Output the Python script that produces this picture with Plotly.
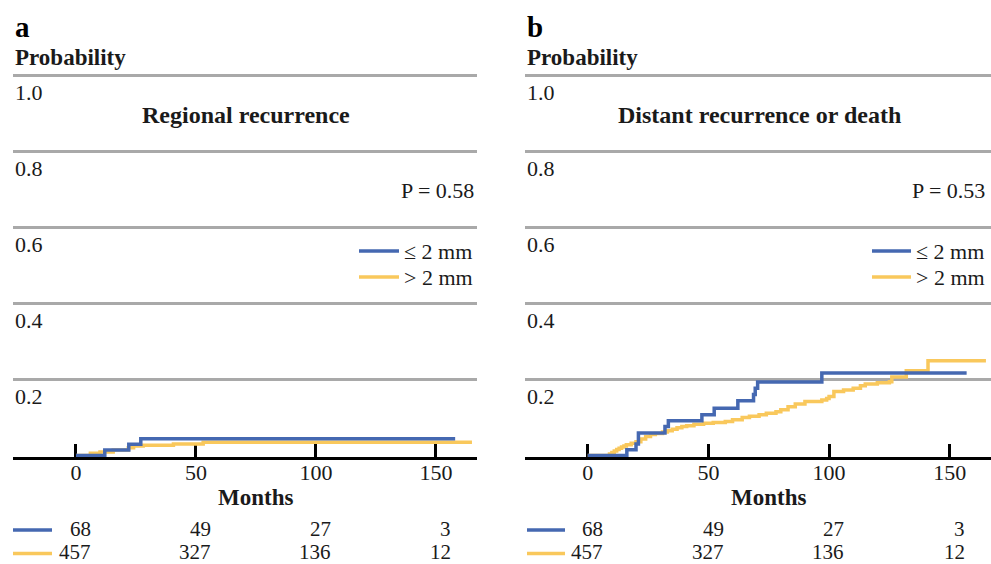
import plotly.graph_objects as go

# ---------------- data ----------------
# Panel a: Regional recurrence
a_le2_months = [0, 12, 22, 27, 158]
a_le2_prob = [0, 0.0147, 0.0294, 0.0441, 0.0441]
a_gt2_months = [0, 6, 10, 15.5, 21.8, 24, 28, 40.6, 53, 165]
a_gt2_prob = [0, 0.006, 0.009, 0.0145, 0.02, 0.025, 0.027, 0.030, 0.035, 0.035]

# Panel b: Distant recurrence or death
b_le2_months = [0, 16.2, 20.0, 21.0, 32, 33.4, 47.3, 52.4, 62.2, 68.7, 69.4, 70.4, 97, 157]
b_le2_prob = [0, 0.015, 0.030, 0.059, 0.076, 0.091, 0.107, 0.124, 0.144, 0.160, 0.177, 0.193, 0.217, 0.217]
b_gt2_months = [0, 9, 10, 11, 12, 13, 14, 15, 16, 18, 20, 22, 24, 26, 28, 31, 33, 35, 37, 39,
                41, 44, 48, 52, 57, 60, 64, 67, 71, 74, 78, 80, 83, 86, 90, 97, 99, 100, 102,
                106, 110, 113, 115, 120, 125, 126, 132, 141, 165]
b_gt2_prob = [0, 0.004, 0.008, 0.012, 0.016, 0.019, 0.022, 0.025, 0.028, 0.032, 0.036, 0.043,
              0.050, 0.055, 0.058, 0.062, 0.065, 0.069, 0.073, 0.076, 0.078, 0.082, 0.085, 0.087,
              0.089, 0.094, 0.100, 0.103, 0.107, 0.111, 0.115, 0.120, 0.128, 0.135, 0.142, 0.146,
              0.150, 0.155, 0.168, 0.172, 0.177, 0.183, 0.188, 0.191, 0.194, 0.206, 0.223, 0.249,
              0.249]

# number at risk
risk_months = [0, 50, 100, 150]
risk_le2 = [68, 49, 27, 3]
risk_gt2 = [457, 327, 136, 12]

x_ticks = [0, 50, 100, 150]
y_ticks = [0.2, 0.4, 0.6, 0.8, 1.0]
y_tick_labels = ["0.2", "0.4", "0.6", "0.8", "1.0"]

panel_letters = ["a", "b"]
panel_titles = ["Regional recurrence", "Distant recurrence or death"]
p_values = ["P = 0.58", "P = 0.53"]
group_labels = ["\u2264 2 mm", "> 2 mm"]

# ---------------- style ----------------
W, H = 991, 564
BLUE = "#4568B1"
YELLOW = "#F9C85C"
GRID = "#A9A9A9"
FONT = "Liberation Serif"
FS = 22
TXT = "#1a1a1a"


def py(px):
    return 1 - px / H


def pxx(px):
    return px / W


fig = go.Figure()

panels = [
    dict(xa="x", ya="y", le2=(a_le2_months, a_le2_prob), gt2=(a_gt2_months, a_gt2_prob),
         dom=[13 / W, 477 / W], rng=[-26.25, 167.1], left=13, right=476,
         leg_line=(359, 399), tab_line=(13, 52)),
    dict(xa="x2", ya="y2", le2=(b_le2_months, b_le2_prob), gt2=(b_gt2_months, b_gt2_prob),
         dom=[525 / W, 1.0], rng=[-26.0, 167.1], left=525, right=987,
         leg_line=(872, 911), tab_line=(527, 565)),
]

ydom = [py(457.0), py(67.4)]
yrng = [-0.004, 1.02]

annotations = []
shapes = []

for i, p in enumerate(panels):
    fig.add_trace(go.Scatter(x=p["gt2"][0], y=p["gt2"][1], mode="lines", line_shape="hv",
                             line=dict(color=YELLOW, width=3.5), xaxis=p["xa"], yaxis=p["ya"],
                             showlegend=False, hoverinfo="skip"))
    fig.add_trace(go.Scatter(x=p["le2"][0], y=p["le2"][1], mode="lines", line_shape="hv",
                             line=dict(color=BLUE, width=3.5), xaxis=p["xa"], yaxis=p["ya"],
                             showlegend=False, hoverinfo="skip"))

    axname = "xaxis" if i == 0 else "xaxis2"
    yname = "yaxis" if i == 0 else "yaxis2"
    fig.update_layout({
        axname: dict(domain=p["dom"], range=p["rng"], anchor=p["ya"], tickvals=x_ticks,
                     ticktext=[str(t) for t in x_ticks], ticks="inside", ticklen=13,
                     tickwidth=2.5, tickcolor="black", showline=True, linecolor="black",
                     linewidth=2.5, showgrid=False, zeroline=False, layer="below traces",
                     ticklabelstandoff=-6,
                     tickfont=dict(family=FONT, size=FS, color=TXT), automargin=False),
        yname: dict(domain=ydom, range=yrng, anchor=p["xa"], tickvals=y_ticks,
                    showticklabels=False, ticks="", showgrid=True, gridcolor=GRID,
                    gridwidth=2.5, zeroline=False, showline=False, automargin=False,
                    layer="below traces"),
    })

    xref = p["xa"]
    yref = p["ya"]
    # y tick labels
    for v, t in zip(y_ticks, y_tick_labels):
        annotations.append(dict(x=pxx(p["left"]), xref="paper", y=v, yref=yref, text=t,
                                showarrow=False, xanchor="left", yanchor="middle", yshift=-17,
                                font=dict(family=FONT, size=FS, color=TXT)))
    # panel letter
    annotations.append(dict(x=pxx(p["left"]), xref="paper", y=py(27), yref="paper",
                            text="<b>%s</b>" % panel_letters[i], showarrow=False,
                            xanchor="left", yanchor="middle",
                            font=dict(family=FONT, size=29, color="black")))
    annotations.append(dict(x=pxx(p["left"]), xref="paper", y=py(58), yref="paper",
                            text="<b>Probability</b>", showarrow=False,
                            xanchor="left", yanchor="middle",
                            font=dict(family=FONT, size=23, color=TXT)))
    # title
    annotations.append(dict(x=71, xref=xref, y=py(115), yref="paper",
                            text="<b>%s</b>" % panel_titles[i], showarrow=False,
                            xanchor="center", yanchor="middle",
                            font=dict(family=FONT, size=24, color=TXT)))
    # p value
    annotations.append(dict(x=pxx(p["right"]), xref="paper", y=py(190), yref="paper",
                            text=p_values[i], showarrow=False, xanchor="right",
                            yanchor="middle", font=dict(family=FONT, size=FS, color=TXT)))
    # legend
    for k, (lab, col, ypx) in enumerate(zip(group_labels, [BLUE, YELLOW], [251, 277])):
        shapes.append(dict(type="line", xref="paper", yref="paper",
                           x0=pxx(p["leg_line"][0]), x1=pxx(p["leg_line"][1]),
                           y0=py(ypx), y1=py(ypx), line=dict(color=col, width=3.5)))
        annotations.append(dict(x=pxx(p["leg_line"][1] + 3), xref="paper", y=py(ypx),
                                yref="paper", text=lab, showarrow=False, xanchor="left",
                                yanchor="middle", font=dict(family=FONT, size=FS, color=TXT)))
    # x title
    annotations.append(dict(x=75, xref=xref, y=py(497), yref="paper", text="<b>Months</b>",
                            showarrow=False, xanchor="center", yanchor="middle",
                            font=dict(family=FONT, size=23, color=TXT)))
    # risk table
    for vals, col, ypx in [(risk_le2, BLUE, 528.5), (risk_gt2, YELLOW, 552)]:
        shapes.append(dict(type="line", xref="paper", yref="paper",
                           x0=pxx(p["tab_line"][0]), x1=pxx(p["tab_line"][1]),
                           y0=py(ypx + 1.5), y1=py(ypx + 1.5), line=dict(color=col, width=3.5)))
        for t, n in zip(risk_months, vals):
            annotations.append(dict(x=t + 6.8, xref=xref, y=py(ypx), yref="paper",
                                    text=str(n), showarrow=False, xanchor="right",
                                    yanchor="middle", borderpad=0,
                                    font=dict(family=FONT, size=21, color=TXT)))

fig.update_layout(width=W, height=H, margin=dict(l=0, r=0, t=0, b=0),
                  paper_bgcolor="white", plot_bgcolor="white", showlegend=False,
                  annotations=annotations, shapes=shapes,
                  font=dict(family=FONT, size=FS, color=TXT))

fig.write_html("out.html", config={"displayModeBar": False},
               post_script="document.body.style.margin='0';document.body.style.overflow='hidden';")
